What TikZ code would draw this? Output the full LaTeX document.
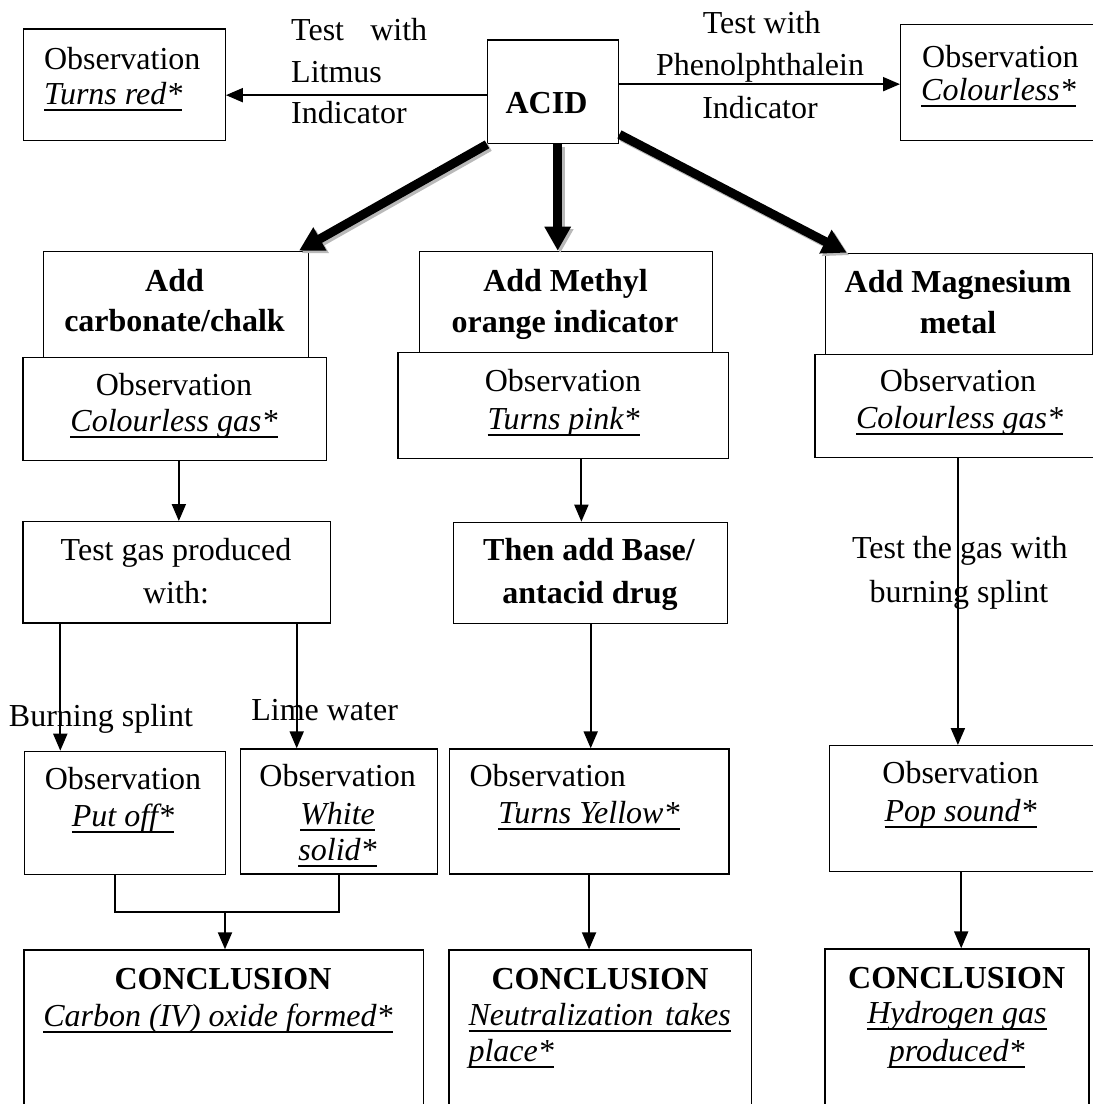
\documentclass[tikz,border=0pt]{standalone}
\usepackage{fontspec}
\setmainfont{Liberation Serif}
\usetikzlibrary{arrows.meta}

% underline at a fixed depth below the baseline
\newcommand\myul[1]{\setbox0\hbox{#1}\rlap{\rule[-6.5pt]{\wd0}{2pt}}\box0}
% empty framed box given by its corners: name, x1, y1, x2, y2
\newcommand\flowbox[5]{\node[box, anchor=north west, minimum width={#4pt-#2pt}, minimum height={#5pt-#3pt}] (#1) at (#2,#3) {};}

\begin{document}
\begin{tikzpicture}[x=1pt, y=-1pt,
  box/.style={draw, line width=1.4pt, inner sep=0pt},
  txt/.style={inner sep=0pt, font=\fontsize{32}{38}\selectfont, anchor=base},
  conn/.style={line width=2pt},
  arr/.style={conn, -{Triangle[length=17pt,width=14pt]}},
  thickarr/.style={line width=9pt, -{Triangle[length=24pt,width=25pt]}},
  shade/.style={draw=gray!55, transform canvas={xshift=2.5pt,yshift=-2.5pt}}]

\useasboundingbox (0,0) rectangle (1093,1104);
\clip (0,0) rectangle (1093,1104);

% ---------- boxes ----------
\flowbox{obsLitmus}{23}{28.3}{224.5}{140}
\flowbox{acid}{487}{39.3}{618}{143}
\flowbox{obsPhen}{900}{24}{1110}{140}
\flowbox{carb}{42.8}{250.7}{307.6}{356.7}
\flowbox{carbObs}{22.4}{356.7}{325.9}{460}
\flowbox{methyl}{419}{250.7}{712}{352}
\flowbox{methylObs}{397.4}{352}{728}{457.7}
\flowbox{mag}{824.7}{252.7}{1092}{354}
\flowbox{magObs}{814.4}{354}{1100}{457}
\flowbox{testGas}{22.4}{521}{329.7}{622.3}
\flowbox{base}{453}{521.7}{727}{622.7}
\flowbox{putOff}{23.5}{750.7}{224.5}{874}
\flowbox{white}{239.6}{748.3}{436.7}{873.3}
\flowbox{yellow}{448.5}{748.3}{728.2}{873.3}
\flowbox{pop}{828.5}{745}{1092.5}{870.7}
\flowbox{concCarb}{23.3}{949.3}{422.5}{1120}
\flowbox{concNeut}{448.3}{949.3}{750.7}{1120}
\flowbox{concH}{824.3}{948.3}{1088.3}{1120}

% ---------- texts ----------
\node[txt, anchor=base west] (litmusA) at (43.8,69.3) {Observation};
\node[txt, anchor=base west] (litmusB) at (43.8,104) {\myul{\itshape Turns red*}};
\node[txt] (acidT) at (546.5,113) {\bfseries ACID};

\node[txt, anchor=base west] (labL1) at (291,40) {\makebox[136pt][s]{Test with}};
\node[txt, anchor=base west] (labL2) at (291,82.7) {Litmus};
\node[txt, anchor=base west] (labL3) at (291,123.3) {Indicator};

\node[txt] (labR1) at (761.7,33.3) {Test with};
\node[txt] (labR2) at (760,75.5) {Phenolphthalein};
\node[txt] (labR3) at (760,118.3) {Indicator};

\node[txt, anchor=base west] (phenA) at (922,67) {Observation};
\node[txt, anchor=base west] (phenB) at (921,100) {\myul{\itshape Colourless*}};

\node[txt] (carbA) at (174.5,291) {\bfseries Add};
\node[txt] (carbB) at (174.5,331.7) {\bfseries carbonate/chalk};
\node[txt] (carbObsA) at (174,395.7) {Observation};
\node[txt] (carbObsB) at (174,431) {\myul{\itshape Colourless gas*}};

\node[txt] (methylA) at (565.5,291) {\bfseries Add Methyl};
\node[txt] (methylB) at (565,332) {\bfseries orange indicator};
\node[txt] (methylObsA) at (563,391.7) {Observation};
\node[txt] (methylObsB) at (563.6,429) {\myul{\itshape Turns pink*}};

\node[txt] (magA) at (958,292) {\bfseries Add Magnesium};
\node[txt] (magB) at (958,333.5) {\bfseries metal};
\node[txt] (magObsA) at (958,391.7) {Observation};
\node[txt] (magObsB) at (959.6,428.3) {\myul{\itshape Colourless gas*}};

\node[txt] (testGasA) at (176,560.7) {Test gas produced};
\node[txt] (testGasB) at (176,603.3) {with:};

\node[txt] (baseA) at (589,560) {\bfseries Then add Base/};
\node[txt] (baseB) at (590,603.3) {\bfseries antacid drug};

\node[txt] (splintA) at (959.8,558.3) {Test the gas with};
\node[txt] (splintB) at (958.9,602.7) {burning splint};

\node[txt] (burnLab) at (101,726.7) {Burning splint};
\node[txt] (limeLab) at (324.6,720.7) {Lime water};

\node[txt] (putOffA) at (123,789.3) {Observation};
\node[txt] (putOffB) at (123,826.7) {\myul{\itshape Put off*}};

\node[txt] (whiteA) at (337.6,786.7) {Observation};
\node[txt] (whiteB) at (337.6,824) {\myul{\itshape White}};
\node[txt] (whiteC) at (337.6,860) {\myul{\itshape solid*}};

\node[txt, anchor=base west] (yellowA) at (469.3,786.7) {Observation};
\node[txt] (yellowB) at (589,823.3) {\myul{\itshape Turns Yellow*}};

\node[txt] (popA) at (960.6,783.3) {Observation};
\node[txt] (popB) at (960.6,821.7) {\myul{\itshape Pop sound*}};

\node[txt] (concCarbA) at (223,989.3) {\bfseries CONCLUSION};
\node[txt] (concCarbB) at (218,1026) {\myul{\itshape Carbon (IV) oxide formed*}};

\node[txt] (concNeutA) at (600,989.3) {\bfseries CONCLUSION};
\node[txt, anchor=base west] (concNeutB) at (468.3,1025) {\myul{\makebox[262.4pt][s]{\itshape Neutralization takes}}};
\node[txt, anchor=base west] (concNeutC) at (468.3,1061.7) {\myul{\itshape place*}};

\node[txt] (concHA) at (956.7,988.3) {\bfseries CONCLUSION};
\node[txt] (concHB) at (957,1023.3) {\myul{\itshape Hydrogen gas}};
\node[txt] (concHC) at (956.7,1061.7) {\myul{\itshape produced*}};

% ---------- indicator tests ----------
\draw[arr] ([yshift=-3.3pt]acid.west) -- ([yshift=-3.3pt]acid.west -| obsLitmus.east);
\draw[arr] ([yshift=7.7pt]acid.east) -- ([yshift=7.7pt]acid.east -| obsPhen.west);

% ---------- heavy arrows with their grey shadows ----------
\draw[thickarr, shade] (acid.south west) -- ([xshift=-10pt]carb.north east);
\draw[thickarr, shade] ([xshift=4.5pt]acid.south) -- ([xshift=4.5pt]acid.south |- methyl.north);
\draw[thickarr, shade] ([yshift=10pt]acid.south east) -- ([xshift=22pt]mag.north west);
\draw[thickarr] (acid.south west) -- ([xshift=-10pt]carb.north east);
\draw[thickarr] ([xshift=4.5pt]acid.south) -- ([xshift=4.5pt]acid.south |- methyl.north);
\draw[thickarr] ([yshift=10pt]acid.south east) -- ([xshift=22pt]mag.north west);

% ---------- carbonate column ----------
\draw[arr] ([xshift=4pt]carbObs.south) -- ([xshift=4pt]carbObs.south |- testGas.north);
\coordinate (splintX) at (60.3,0);
\coordinate (limeX) at (296.7,0);
\draw[arr] (testGas.south -| splintX) -- (putOff.north -| splintX);
\draw[arr] (testGas.south -| limeX) -- (white.north -| limeX);
\coordinate (join) at (225,912);
\draw[conn] ([xshift=-10pt]putOff.south) |- (join) -| (white.south);
\draw[arr] (join) -- (join |- concCarb.north);

% ---------- methyl orange column ----------
\draw[arr] ([xshift=18pt]methylObs.south) -- ([xshift=18pt]methylObs.south |- base.north);
\draw[arr] (base.south) -- (base.south |- yellow.north);
\draw[arr] (yellow.south) -- (yellow.south |- concNeut.north);

% ---------- magnesium column ----------
\draw[arr] (magObs.south) -- (magObs.south |- pop.north);
\draw[arr] (pop.south) -- (pop.south |- concH.north);

\end{tikzpicture}
\end{document}
